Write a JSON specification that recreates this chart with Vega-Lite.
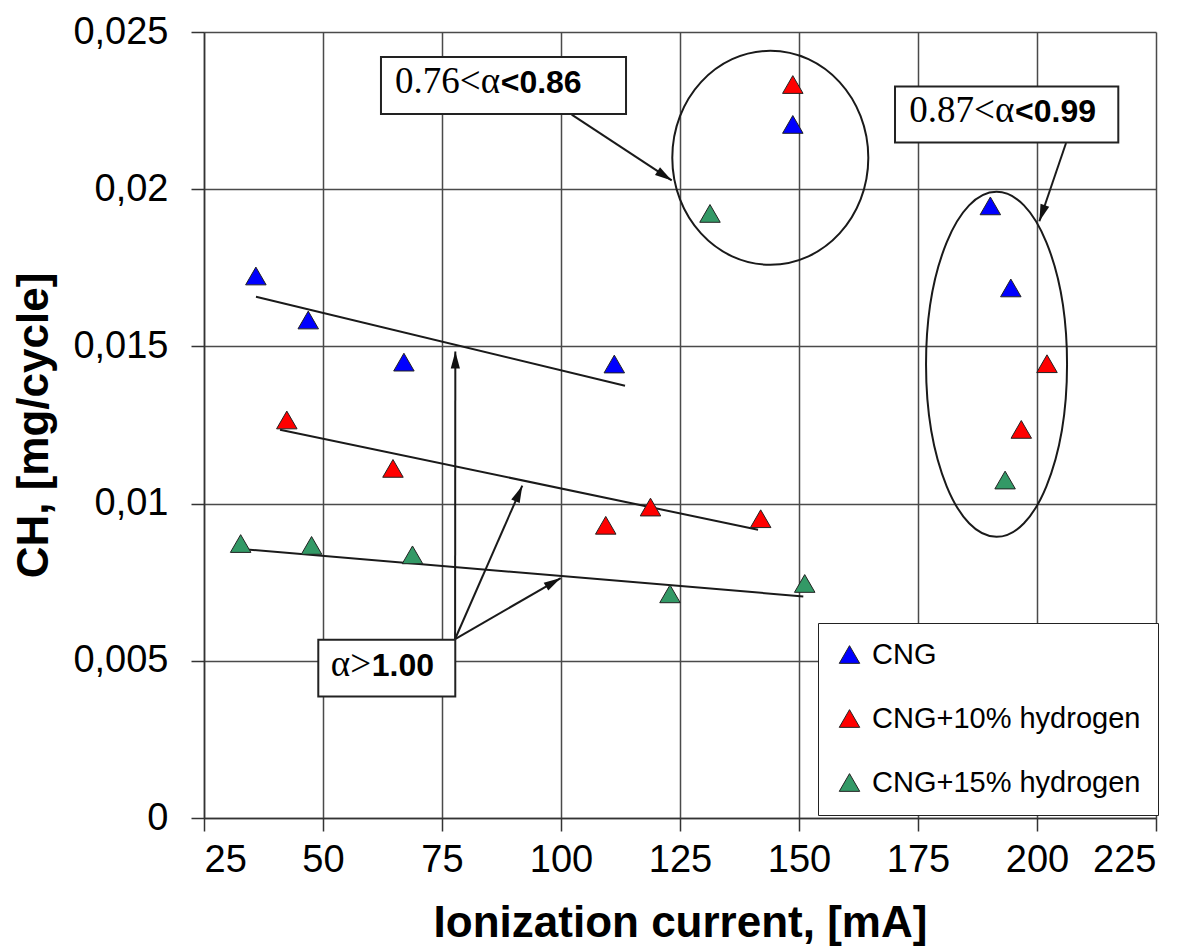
{
  "$schema": "https://vega.github.io/schema/vega-lite/v6.json",
  "width": 952,
  "height": 786,
  "autosize": "none",
  "padding": {"left": 204, "top": 32, "right": 36, "bottom": 130},
  "background": "white",
  "config": {
    "view": {"stroke": null},
    "font": "Liberation Sans",
    "axis": {
      "grid": true,
      "gridColor": "#4a4a4a",
      "gridWidth": 1.5,
      "gridOpacity": 1,
      "domainColor": "#333333",
      "domainWidth": 1.5,
      "tickColor": "#333333",
      "tickWidth": 1.5,
      "tickSize": 13,
      "labelFont": "Liberation Sans",
      "labelFontSize": 38,
      "labelColor": "black",
      "titleFont": "Liberation Sans",
      "titleFontSize": 44,
      "titleFontWeight": "bold",
      "titleColor": "black"
    }
  },
  "datasets": {
    "pts": [
      {"fuel": "CNG", "current": 35.9, "ch": 0.01724},
      {"fuel": "CNG", "current": 46.9, "ch": 0.01584},
      {"fuel": "CNG", "current": 67.0, "ch": 0.0145},
      {"fuel": "CNG", "current": 111.2, "ch": 0.01444},
      {"fuel": "CNG", "current": 148.7, "ch": 0.02206},
      {"fuel": "CNG", "current": 190.2, "ch": 0.01947},
      {"fuel": "CNG", "current": 194.5, "ch": 0.01686},
      {"fuel": "CNG+10% hydrogen", "current": 42.4, "ch": 0.01266},
      {"fuel": "CNG+10% hydrogen", "current": 64.7, "ch": 0.01112},
      {"fuel": "CNG+10% hydrogen", "current": 109.4, "ch": 0.00931},
      {"fuel": "CNG+10% hydrogen", "current": 118.8, "ch": 0.00989},
      {"fuel": "CNG+10% hydrogen", "current": 141.95, "ch": 0.00952},
      {"fuel": "CNG+10% hydrogen", "current": 148.7, "ch": 0.02333},
      {"fuel": "CNG+10% hydrogen", "current": 202.1, "ch": 0.01445},
      {"fuel": "CNG+10% hydrogen", "current": 196.7, "ch": 0.01236},
      {"fuel": "CNG+15% hydrogen", "current": 32.7, "ch": 0.00873},
      {"fuel": "CNG+15% hydrogen", "current": 47.6, "ch": 0.00867},
      {"fuel": "CNG+15% hydrogen", "current": 68.8, "ch": 0.00837},
      {"fuel": "CNG+15% hydrogen", "current": 122.9, "ch": 0.00713},
      {"fuel": "CNG+15% hydrogen", "current": 151.2, "ch": 0.00746},
      {"fuel": "CNG+15% hydrogen", "current": 131.3, "ch": 0.01923},
      {"fuel": "CNG+15% hydrogen", "current": 193.3, "ch": 0.01075}
    ],
    "trends": [
      {"fuel": "CNG", "current": 35.92, "ch": 0.01658},
      {"fuel": "CNG", "current": 113.45, "ch": 0.01375},
      {"fuel": "CNG+10% hydrogen", "current": 40.97, "ch": 0.01235},
      {"fuel": "CNG+10% hydrogen", "current": 141.4, "ch": 0.00917},
      {"fuel": "CNG+15% hydrogen", "current": 32.71, "ch": 0.008556},
      {"fuel": "CNG+15% hydrogen", "current": 150.9, "ch": 0.007048}
    ],
    "arrows": [
      {"id": "a1", "x0": 102.25, "y0": 0.02237, "x1": 123.26, "y1": 0.02028},
      {"id": "a2", "x0": 206.1, "y0": 0.02147, "x1": 200.5, "y1": 0.01898},
      {"id": "a3", "x0": 77.75, "y0": 0.005693, "x1": 77.8, "y1": 0.01484},
      {"id": "a4", "x0": 77.75, "y0": 0.005693, "x1": 91.87, "y1": 0.01057},
      {"id": "a5", "x0": 77.75, "y0": 0.005693, "x1": 99.94, "y1": 0.00763}
    ],
    "boxes": [
      {"id": "b1", "xa": 62.18, "xb": 113.66, "ya": 0.024205, "yb": 0.022392},
      {"id": "b2", "xa": 170.17, "xb": 217.08, "ya": 0.02327, "yb": 0.021489},
      {"id": "b3", "xa": 49.01, "xb": 77.79, "ya": 0.005671, "yb": 0.003868}
    ],
    "serifText": [
      {"label": "0.76<α", "current": 87.2, "ch": 0.02306},
      {"label": "0.87<α", "current": 195.25, "ch": 0.022137},
      {"label": "α>", "current": 60.1, "ch": 0.004526}
    ],
    "boldText": [
      {"label": "<0.86", "current": 87.33, "ch": 0.02306},
      {"label": "<0.99", "current": 195.38, "ch": 0.022137},
      {"label": "1.00", "current": 60.23, "ch": 0.004526}
    ],
    "ellipses": [
      {"id": "e1", "current": 143.97, "ch": 0.021},
      {"id": "e2", "current": 191.5, "ch": 0.01443}
    ]
  },
  "layer": [
    {
      "data": {"name": "trends"},
      "mark": {"type": "line", "color": "#1a1a1a", "strokeWidth": 2},
      "encoding": {
        "x": {"field": "current", "type": "quantitative", "scale": {"domain": [25, 225], "nice": false, "zero": false},
              "axis": {"values": [25, 50, 75, 100, 125, 150, 175, 200, 225], "title": "Ionization current, [mA]", "labelPadding": 10, "titlePadding": 22}},
        "y": {"field": "ch", "type": "quantitative", "scale": {"domain": [0, 0.025], "nice": false},
              "axis": {"values": [0, 0.005, 0.01, 0.015, 0.02, 0.025], "format": ".3~f", "labelExpr": "replace(datum.label, '.', ',')", "title": "CH, [mg/cycle]", "labelPadding": 23, "titlePadding": 16}},
        "detail": {"field": "fuel"}
      }
    },
    {
      "data": {"name": "arrows"},
      "mark": {"type": "rule", "color": "#1a1a1a", "strokeWidth": 2},
      "encoding": {
        "x": {"field": "x0", "type": "quantitative"},
        "y": {"field": "y0", "type": "quantitative"},
        "x2": {"field": "x1"},
        "y2": {"field": "y1"}
      }
    },
    {
      "data": {"name": "arrows"},
      "transform": [{"filter": "datum.id == 'a1'"}],
      "mark": {"type": "point", "shape": "M0,0L-0.27,1L0.27,1Z", "filled": true, "color": "#111111", "opacity": 1, "size": 1156, "angle": 123.3},
      "encoding": {"x": {"field": "x1", "type": "quantitative"}, "y": {"field": "y1", "type": "quantitative"}}
    },
    {
      "data": {"name": "arrows"},
      "transform": [{"filter": "datum.id == 'a2'"}],
      "mark": {"type": "point", "shape": "M0,0L-0.27,1L0.27,1Z", "filled": true, "color": "#111111", "opacity": 1, "size": 1156, "angle": 198.8},
      "encoding": {"x": {"field": "x1", "type": "quantitative"}, "y": {"field": "y1", "type": "quantitative"}}
    },
    {
      "data": {"name": "arrows"},
      "transform": [{"filter": "datum.id == 'a3'"}],
      "mark": {"type": "point", "shape": "M0,0L-0.27,1L0.27,1Z", "filled": true, "color": "#111111", "opacity": 1, "size": 1156, "angle": 0},
      "encoding": {"x": {"field": "x1", "type": "quantitative"}, "y": {"field": "y1", "type": "quantitative"}}
    },
    {
      "data": {"name": "arrows"},
      "transform": [{"filter": "datum.id == 'a4'"}],
      "mark": {"type": "point", "shape": "M0,0L-0.27,1L0.27,1Z", "filled": true, "color": "#111111", "opacity": 1, "size": 1156, "angle": 23.7},
      "encoding": {"x": {"field": "x1", "type": "quantitative"}, "y": {"field": "y1", "type": "quantitative"}}
    },
    {
      "data": {"name": "arrows"},
      "transform": [{"filter": "datum.id == 'a5'"}],
      "mark": {"type": "point", "shape": "M0,0L-0.27,1L0.27,1Z", "filled": true, "color": "#111111", "opacity": 1, "size": 1156, "angle": 60.0},
      "encoding": {"x": {"field": "x1", "type": "quantitative"}, "y": {"field": "y1", "type": "quantitative"}}
    },
    {
      "data": {"name": "ellipses"},
      "transform": [{"filter": "datum.id == 'e1'"}],
      "mark": {"type": "point", "shape": "M0.916,0C0.916,0.5523,0.5059,1,0,1C-0.5059,1,-0.916,0.5523,-0.916,0C-0.916,-0.5523,-0.5059,-1,0,-1C0.5059,-1,0.916,-0.5523,0.916,0Z", "filled": false, "color": "#1a1a1a", "opacity": 1, "strokeWidth": 2, "size": 45796},
      "encoding": {"x": {"field": "current", "type": "quantitative"}, "y": {"field": "ch", "type": "quantitative"}}
    },
    {
      "data": {"name": "ellipses"},
      "transform": [{"filter": "datum.id == 'e2'"}],
      "mark": {"type": "point", "shape": "M0.4087,0C0.4087,0.5523,0.2257,1,0,1C-0.2257,1,-0.4087,0.5523,-0.4087,0C-0.4087,-0.5523,-0.2257,-1,0,-1C0.2257,-1,0.4087,-0.5523,0.4087,0Z", "filled": false, "color": "#1a1a1a", "opacity": 1, "strokeWidth": 2, "size": 119025},
      "encoding": {"x": {"field": "current", "type": "quantitative"}, "y": {"field": "ch", "type": "quantitative"}}
    },
    {
      "data": {"name": "boxes"},
      "mark": {"type": "rect", "fill": "white", "stroke": "#222222", "strokeWidth": 2},
      "encoding": {
        "x": {"field": "xa", "type": "quantitative"},
        "x2": {"field": "xb"},
        "y": {"field": "ya", "type": "quantitative"},
        "y2": {"field": "yb"}
      }
    },
    {
      "data": {"name": "serifText"},
      "mark": {"type": "text", "font": "Liberation Serif", "fontSize": 37, "align": "right", "baseline": "alphabetic", "color": "black"},
      "encoding": {
        "x": {"field": "current", "type": "quantitative"},
        "y": {"field": "ch", "type": "quantitative"},
        "text": {"field": "label"}
      }
    },
    {
      "data": {"name": "boldText"},
      "mark": {"type": "text", "font": "Liberation Sans", "fontWeight": "bold", "fontSize": 32, "align": "left", "baseline": "alphabetic", "color": "black"},
      "encoding": {
        "x": {"field": "current", "type": "quantitative"},
        "y": {"field": "ch", "type": "quantitative"},
        "text": {"field": "label"}
      }
    },
    {
      "data": {"name": "pts"},
      "mark": {"type": "point", "shape": "triangle-up", "filled": true, "opacity": 1, "size": 420, "stroke": "#222222", "strokeWidth": 1},
      "encoding": {
        "x": {"field": "current", "type": "quantitative"},
        "y": {"field": "ch", "type": "quantitative"},
        "color": {
          "field": "fuel", "type": "nominal",
          "scale": {"domain": ["CNG", "CNG+10% hydrogen", "CNG+15% hydrogen"], "range": ["#0000ff", "#ff0000", "#339966"]},
          "legend": {
            "title": null, "orient": "none", "legendX": 614, "legendY": 591,
            "strokeColor": "#222222", "fillColor": "white", "padding": 17,
            "symbolType": "triangle-up", "symbolSize": 420, "symbolStrokeColor": "#222222", "symbolStrokeWidth": 1, "symbolOpacity": 1,
            "labelFont": "Liberation Sans", "labelFontSize": 29, "labelColor": "black", "labelOffset": 8, "labelLimit": 400,
            "rowPadding": 34
          }
        }
      }
    }
  ]
}
